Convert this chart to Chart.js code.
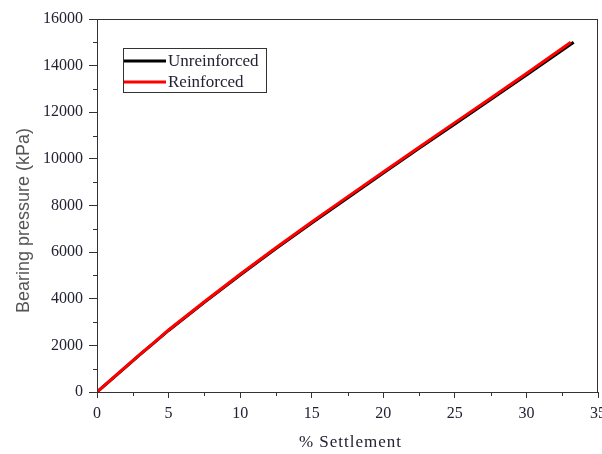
<!DOCTYPE html>
<html>
<head>
<meta charset="utf-8">
<script src="https://cdn.jsdelivr.net/npm/chart.js@4"></script>
<style>
html,body{margin:0;padding:0;background:#fff;}
#wrap{width:602px;height:454px;}
</style>
</head>
<body>
<div id="wrap"><canvas id="c" width="602" height="454"></canvas></div>
<script>
// ---- data ----
const seriesNames = ['Unreinforced', 'Reinforced'];
const settlementUnreinforced = [0, 1, 2, 3, 4, 5, 7.5, 10, 12.5, 15, 17.5, 20, 22.5, 25, 27.5, 30, 33.3];
const pressureUnreinforced   = [0, 535, 1070, 1600, 2115, 2640, 3845, 5020, 6155, 7250, 8325, 9395, 10450, 11500, 12545, 13600, 15000];
const settlementReinforced   = [0, 1, 2, 3, 4, 5, 7.5, 10, 12.5, 15, 17.5, 20, 22.5, 25, 27.5, 30, 33.1];
const pressureReinforced     = [0, 540, 1080, 1610, 2130, 2660, 3870, 5050, 6190, 7290, 8370, 9440, 10500, 11555, 12605, 13660, 15000];
const xTicks = [0, 5, 10, 15, 20, 25, 30, 35];
const yTicks = [0, 2000, 4000, 6000, 8000, 10000, 12000, 14000, 16000];
const xTitle = '% Settlement';
const yTitle = 'Bearing pressure (kPa)';

const toPts = (xs, ys) => xs.map((x, i) => ({x: x, y: ys[i]}));

const SERIF = '"Liberation Serif", "Times New Roman", serif';
const SANS = '"Liberation Sans", Arial, sans-serif';
const AXIS = '#333333';
const LABEL = '#222233';

const framePlugin = {
  id: 'frame',
  afterDraw(chart) {
    const ctx = chart.ctx, a = chart.chartArea;
    const xs = chart.scales.x, ys = chart.scales.y;
    ctx.save();
    ctx.strokeStyle = AXIS;
    ctx.lineWidth = 1;
    ctx.strokeRect(Math.round(a.left) + 0.5, Math.round(a.top) + 0.5,
                   Math.round(a.right - a.left) - 1, Math.round(a.bottom - a.top));
    // minor ticks
    ctx.beginPath();
    for (let i = 0; i < xs.ticks.length - 1; i++) {
      const v = (xs.ticks[i].value + xs.ticks[i + 1].value) / 2;
      const px = Math.round(xs.getPixelForValue(v)) + 0.5;
      ctx.moveTo(px, a.bottom); ctx.lineTo(px, a.bottom + 4);
    }
    for (let i = 0; i < ys.ticks.length - 1; i++) {
      const v = (ys.ticks[i].value + ys.ticks[i + 1].value) / 2;
      const py = Math.round(ys.getPixelForValue(v)) + 0.5;
      ctx.moveTo(a.left, py); ctx.lineTo(a.left - 4, py);
    }
    ctx.stroke();
    // axis titles
    ctx.fillStyle = LABEL;
    ctx.font = '17px ' + SERIF;
    ctx.textAlign = 'center';
    ctx.textBaseline = 'middle';
    try { ctx.letterSpacing = '1px'; } catch (e) {}
    ctx.fillText(xTitle, (a.left + a.right) / 2 + 3, 443);
    try { ctx.letterSpacing = '0px'; } catch (e) {}
    ctx.save();
    ctx.translate(24, (a.top + a.bottom) / 2 + 15);
    ctx.rotate(-Math.PI / 2);
    ctx.fillStyle = '#555555';
    ctx.font = '18px ' + SANS;
    ctx.fillText(yTitle, 0, 0);
    ctx.restore();
    // legend
    const bx = 123, by = 48, bw = 143, bh = 44;
    ctx.fillStyle = '#fff';
    ctx.fillRect(bx, by, bw, bh);
    ctx.strokeStyle = '#333';
    ctx.strokeRect(bx + 0.5, by + 0.5, bw, bh);
    ctx.font = '17px ' + SERIF;
    ctx.textAlign = 'left';
    ctx.textBaseline = 'middle';
    chart.data.datasets.forEach((ds, i) => {
      const y = by + 13 + i * 21;
      ctx.strokeStyle = ds.borderColor;
      ctx.lineWidth = 3;
      ctx.beginPath(); ctx.moveTo(bx + 1, y); ctx.lineTo(bx + 43, y); ctx.stroke();
      ctx.fillStyle = LABEL;
      ctx.fillText(ds.label, bx + 45, y + 1);
    });
    ctx.restore();
  }
};

new Chart(document.getElementById('c'), {
  type: 'line',
  data: {
    datasets: [
      {label: seriesNames[0], data: toPts(settlementUnreinforced, pressureUnreinforced), order: 2,
       borderColor: '#000000', backgroundColor: '#000000', borderWidth: 3, pointRadius: 0, tension: 0},
      {label: seriesNames[1], data: toPts(settlementReinforced, pressureReinforced), order: 1,
       borderColor: '#ff0000', backgroundColor: '#ff0000', borderWidth: 3, pointRadius: 0, tension: 0}
    ]
  },
  options: {
    responsive: false,
    animation: false,
    devicePixelRatio: 1,
    layout: {padding: {top: 19, right: 4, left: 0, bottom: 4}},
    plugins: {legend: {display: false}, tooltip: {enabled: false}},
    scales: {
      x: {
        type: 'linear', min: 0, max: 35,
        afterBuildTicks: s => { s.ticks = xTicks.map(v => ({value: v})); },
        afterFit: s => { s.paddingRight = 0; s.paddingLeft = 0; s.height = 58; },
        ticks: {font: {family: SERIF, size: 16}, color: LABEL, padding: 6, maxRotation: 0,
                callback: v => String(v)},
        grid: {drawOnChartArea: false, drawTicks: true, tickLength: 6, tickColor: AXIS, color: AXIS},
        border: {color: AXIS, width: 1},
        title: {display: false}
      },
      y: {
        type: 'linear', min: 0, max: 16000,
        afterBuildTicks: s => { s.ticks = yTicks.map(v => ({value: v})); },
        afterFit: s => { s.width = 97; },
        ticks: {font: {family: SERIF, size: 16}, color: LABEL, padding: 6,
                callback: v => String(v)},
        grid: {drawOnChartArea: false, drawTicks: true, tickLength: 8, tickColor: AXIS, color: AXIS},
        border: {color: AXIS, width: 1},
        title: {display: false}
      }
    }
  },
  plugins: [framePlugin]
});
</script>
</body>
</html>
